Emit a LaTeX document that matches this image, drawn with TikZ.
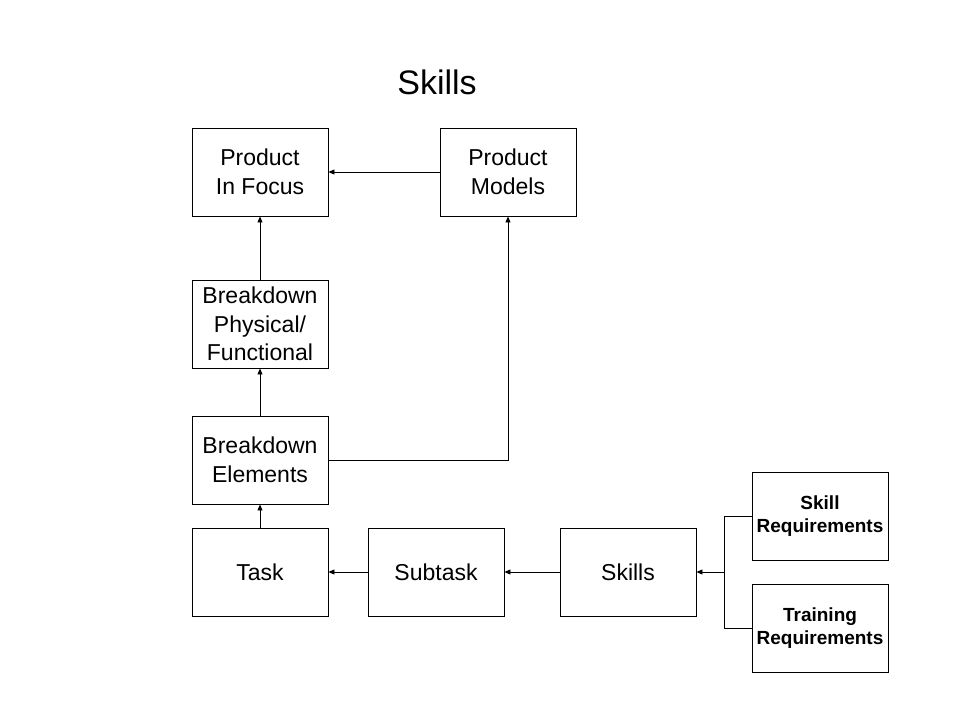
\documentclass[tikz,border=0pt]{standalone}
\usepackage{fontspec}
\setmainfont{Liberation Sans}
\usetikzlibrary{arrows.meta}
\begin{document}
\begin{tikzpicture}[x=1pt,y=-1pt,
  box/.style={draw,line width=0.9pt,minimum width=136pt,minimum height=88pt,inner sep=0pt,align=center,font=\fontsize{23}{28.5}\selectfont},
  reqbox/.style={box,font=\bfseries\fontsize{19}{23}\selectfont},
  conn/.style={line width=0.9pt,-{Triangle[length=6pt,width=5pt]}},
  plain/.style={line width=0.9pt}]
\useasboundingbox (0,0) rectangle (960,720);
\node[font=\fontsize{34}{40}\selectfont] (title) at (437,82) {Skills};
\node[box] (pif) at (260,172) {Product\\In Focus};
\node[box] (pm) at (508,172) {Product\\Models};
\node[box] (bpf) at (260,324) {Breakdown\\Physical/\\Functional};
\node[box] (be) at (260,460) {Breakdown\\Elements};
\node[box] (task) at (260,572) {Task};
\node[box] (sub) at (436,572) {Subtask};
\node[box] (sk) at (628,572) {Skills};
\node[reqbox] (sr) at (820,516) {Skill\\Requirements};
\node[reqbox] (tr) at (820,628) {Training\\Requirements};
\coordinate (j) at (724,572);
\draw[conn] (pm) -- (pif);
\draw[conn] (bpf) -- (pif);
\draw[conn] (be) -- (bpf);
\draw[conn] (task) -- (be);
\draw[conn] (sub) -- (task);
\draw[conn] (sk) -- (sub);
\draw[conn] (be.east) -| (pm.south);
\draw[plain] (sr.west) -| (j) |- (tr.west);
\draw[conn] (j) -- (sk.east);
\end{tikzpicture}
\end{document}
